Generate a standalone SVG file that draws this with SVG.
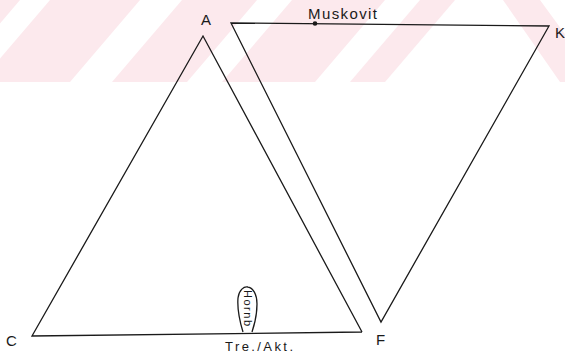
<svg xmlns="http://www.w3.org/2000/svg" width="565" height="357" viewBox="0 0 565 357">
<style>
.ln{fill:none;stroke:#1a1a1a;stroke-width:1.3;stroke-linejoin:miter}
.lb{font-family:"Liberation Sans",Arial,sans-serif;fill:#1a1a1a}
.st{fill:#fce9ed}
</style>
<defs>
<clipPath id="band"><rect x="0" y="0" width="565" height="82"/></clipPath>
</defs>
<rect width="565" height="357" fill="#ffffff"/>
<g id="watermark" clip-path="url(#band)">
<polygon class="st" points="-60,0 20,0 -50,82 -130,82"/>
<polygon class="st" points="50,0 140,0 70,82 -20,82"/>
<polygon class="st" points="182,0 257,0 187,82 112,82"/>
<polygon class="st" points="292,0 385,0 315,82 222,82"/>
<polygon class="st" points="420,0 455,0 385,82 350,82"/>
<polygon class="st" points="503,0 540,0 600,82 560,82"/>
</g>
<g id="triangle-ACF">
<polyline class="ln" points="362,332 203,36 32,336 362,332"/>
</g>
<g id="triangle-KF">
<polygon class="ln" points="231,23 549,26 381,322"/>
<circle cx="315" cy="23.5" r="2.3" fill="#1a1a1a"/>
</g>
<g id="hornb">
<path class="ln" d="M243,332 C240,322 237,310 238,298 C239,290 244,286 248,287 C253,288 257,294 257,304 C257,316 254,326 252,332"/>
<text class="lb" font-size="11" transform="translate(244,290) rotate(90)" textLength="36" lengthAdjust="spacing">Hornb</text>
</g>
<g id="labels">
<text class="lb" x="201" y="25" font-size="15">A</text>
<text class="lb" x="308" y="19" font-size="15" textLength="69" lengthAdjust="spacing">Muskovit</text>
<text class="lb" x="555" y="38" font-size="15">K</text>
<text class="lb" x="6" y="346" font-size="15">C</text>
<text class="lb" x="376" y="345" font-size="15">F</text>
<text class="lb" x="225" y="351" font-size="13" textLength="68" lengthAdjust="spacing">Tre./Akt.</text>
</g>
</svg>
